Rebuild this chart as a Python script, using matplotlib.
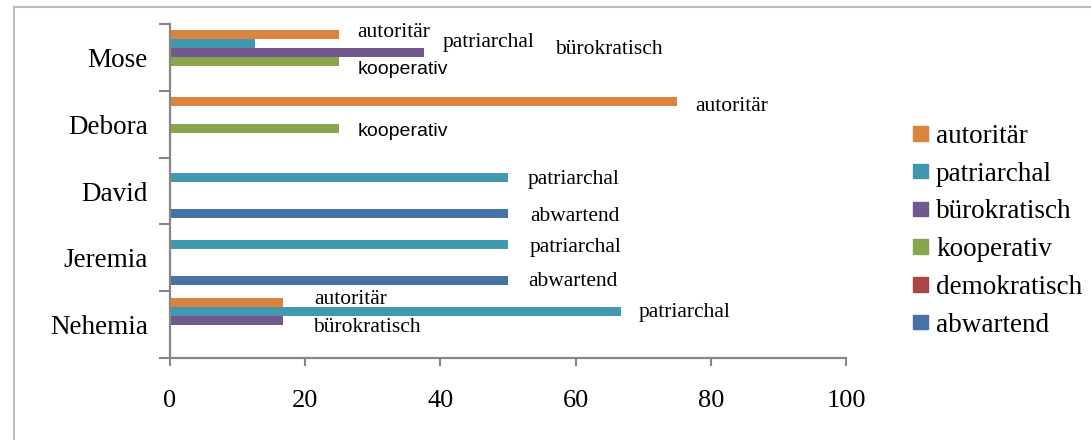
import matplotlib.pyplot as plt
import numpy as np
from matplotlib.lines import Line2D
from matplotlib.patches import Patch

# data (categories from bottom to top)
categories = ['Nehemia', 'Jeremia', 'David', 'Debora', 'Mose']
series = ['autoritär', 'patriarchal', 'bürokratisch', 'kooperativ', 'demokratisch', 'abwartend']
autoritaer = [16.67, 0, 0, 75, 25]
patriarchal = [66.67, 50, 50, 0, 12.5]
buerokratisch = [16.67, 0, 0, 0, 37.5]
kooperativ = [0, 0, 0, 25, 25]
demokratisch = [0, 0, 0, 0, 0]
abwartend = [0, 50, 50, 0, 0]
values = [autoritaer, patriarchal, buerokratisch, kooperativ, demokratisch, abwartend]

colors = ['#DB843D', '#4198AF', '#71588F', '#89A54E', '#AA4643', '#4572A7']

# data labels: (category index, series index, dx px, dy px, font)
labels = [
    (4, 0, 18, -2, 'serif'), (4, 1, 188, -1, 'serif'), (4, 2, 132, -3, 'serif'),
    (4, 3, 19, 8, 'sans'),
    (3, 0, 18, 5, 'serif'), (3, 3, 19, 3, 'sans'),
    (2, 1, 20, 2, 'serif'), (2, 5, 22, 3, 'serif'),
    (1, 1, 22, 3, 'serif'), (1, 5, 20, 1, 'serif'),
    (0, 0, 32, -3, 'serif'), (0, 1, 18, 1, 'serif'), (0, 2, 30, 7, 'serif'),
]

serif = 'Liberation Serif'
sans = 'Liberation Sans'
axis_grey = '#868686'

fig = plt.figure(figsize=(10.91, 4.40), dpi=100)
ax = fig.add_axes([170 / 1091, 1 - 358 / 440, 676 / 1091, 334 / 440])

y = np.arange(len(categories))
h = 0.135
for i, (name, vals) in enumerate(zip(series, values)):
    offs = (2.5 - i) * h
    ax.barh(y + offs, vals, height=h, color=colors[i], label=name, linewidth=0)

for ci, si, dx, dy, fnt in labels:
    xv = values[si][ci]
    yv = y[ci] + (2.5 - si) * h
    if fnt == 'sans':
        fam, fs = sans, 14
    else:
        fam, fs = serif, 15.5
    ax.annotate(series[si], (xv, yv), xytext=(dx * 0.72, -dy * 0.72),
                textcoords='offset points', ha='left', va='center',
                family=fam, fontsize=fs, color='black')

ax.set_xlim(0, 100)
ax.set_ylim(-0.5, len(categories) - 0.5)
ax.set_xticks([0, 20, 40, 60, 80, 100])
ax.set_yticks(y)
ax.set_yticklabels(categories, family=serif, fontsize=19.5)
ax.set_yticks(np.arange(-0.5, len(categories), 1), minor=True)
ax.tick_params(axis='y', which='major', length=0, pad=16)
ax.tick_params(axis='y', which='minor', length=8, width=1.5, color=axis_grey, direction='out')
ax.tick_params(axis='x', length=6, width=1.5, color=axis_grey, pad=17)
for lab in ax.get_xticklabels():
    lab.set_family(serif)
    lab.set_fontsize(19)

for s in ['top', 'right']:
    ax.spines[s].set_visible(False)
for s in ['left', 'bottom']:
    ax.spines[s].set_color(axis_grey)
    ax.spines[s].set_linewidth(1.6)

handles = [Patch(color=c, label=n) for c, n in zip(colors, series)]
leg = fig.legend(handles=handles, loc='upper left', bbox_to_anchor=(913 / 1091, 1 - 124 / 440),
                 frameon=False, prop={'family': serif, 'size': 19.5},
                 handlelength=0.55, handleheight=0.45, handletextpad=0.3, labelspacing=0.47,
                 borderpad=0, borderaxespad=0)

# chart border (cropped at right and bottom)
bx = 14 / 1091
by = 1 - 7 / 440
fig.add_artist(Line2D([bx, bx], [0, by], color='#BDBDBD', lw=1.5, transform=fig.transFigure))
fig.add_artist(Line2D([bx, 1], [by, by], color='#BDBDBD', lw=1.5, transform=fig.transFigure))

fig.savefig('out.png', dpi=100)
